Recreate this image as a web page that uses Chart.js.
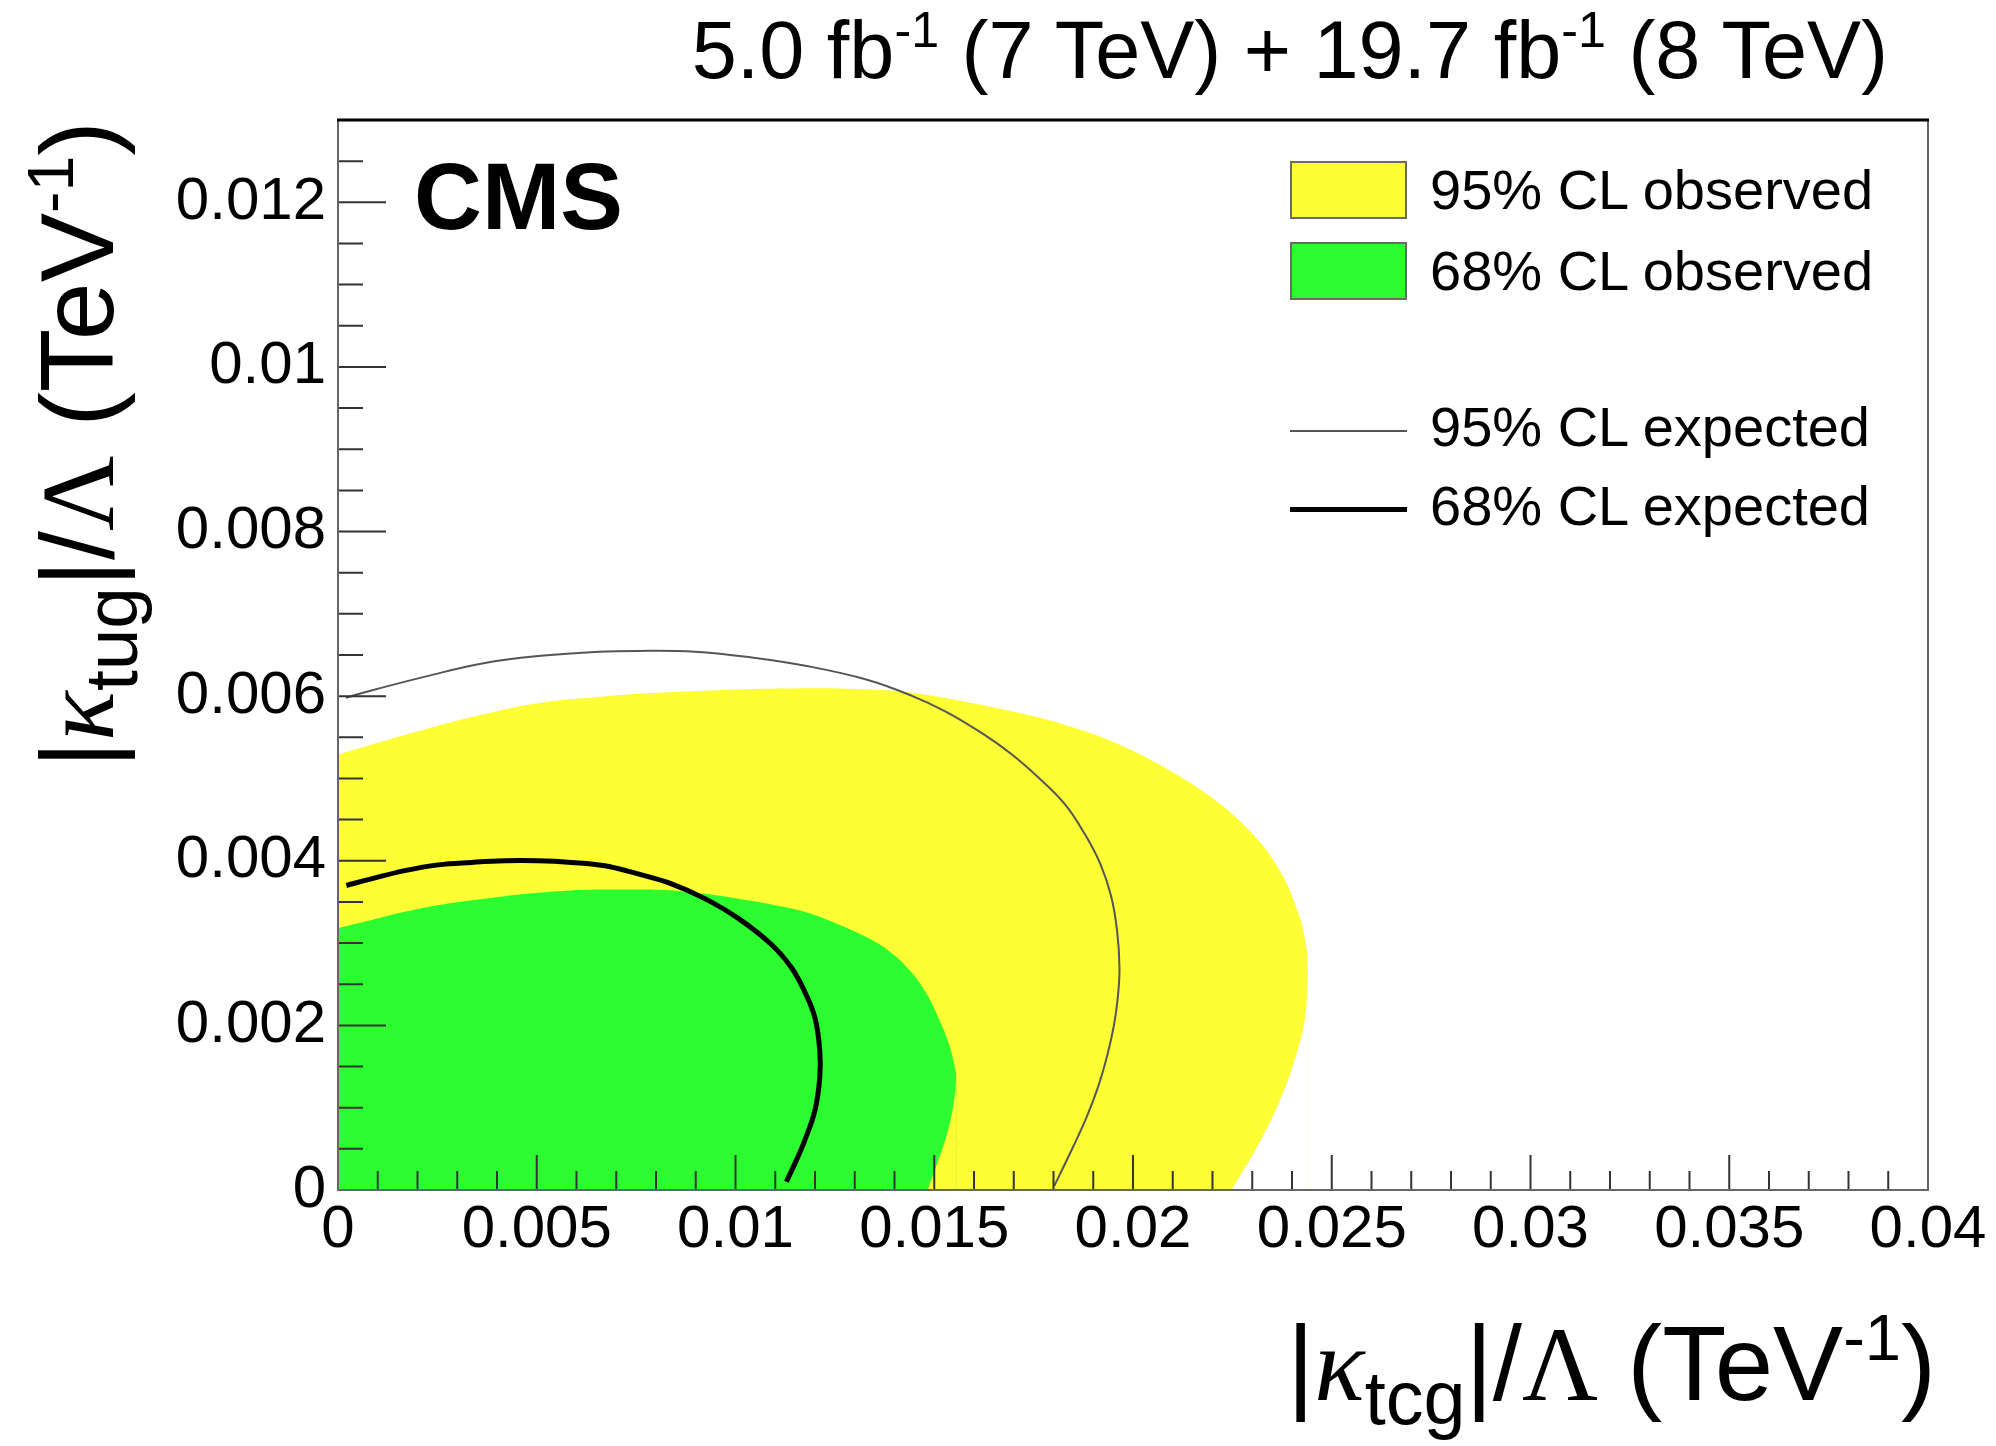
<!DOCTYPE html>
<html lang="en">
<head>
<meta charset="UTF-8">
<title>CMS FCNC tug / tcg limits</title>
<script src="https://cdn.jsdelivr.net/npm/chart.js@4.4.1/dist/chart.umd.min.js"></script>
<style>
  body { margin: 0; background: #fff; }
  #wrap { position: relative; width: 1996px; height: 1446px; font-family: "Liberation Sans", Arial, sans-serif; color: #000; }
  #chartBox { position: absolute; left: 0; top: 0; width: 1996px; height: 1446px; }
  .txt { position: absolute; white-space: nowrap; line-height: 1; }
  .sup { font-size: 62%; position: relative; top: -0.62em; }
  .sub { font-size: 72%; position: relative; top: 0.32em; }
  .serif { font-family: "Liberation Serif", "DejaVu Serif", serif; }
  .title { right: 108px; top: 10px; font-size: 81px; }
  .cms { left: 414px; top: 150px; font-size: 94px; font-weight: bold; }
  .xtitle { right: 60px; top: 1311px; font-size: 105px; }
  .ytitle { left: 0; top: 0; width: 800px; text-align: right; font-size: 104px;
            transform-origin: 0 0; transform: translate(25px, 921px) rotate(-90deg); }
  .leg { left: 1430px; font-size: 56px; }
  .box { position: absolute; left: 1290px; width: 113px; height: 54px; border: 2px solid #6a6a6a; }
  .lline { position: absolute; left: 1290px; width: 117px; }
</style>
</head>
<body>
<div id="wrap">
  <div id="chartBox"><canvas id="chart"></canvas></div>

  <div class="txt title">5.0 fb<span class="sup">-1</span> (7 TeV) + 19.7 fb<span class="sup">-1</span> (8 TeV)</div>
  <div class="txt cms">CMS</div>

  <div class="txt xtitle">|<i class="serif">&kappa;</i><span class="sub">tcg</span>|/<span class="serif">&Lambda;</span> (TeV<span class="sup">-1</span>)</div>
  <div class="txt ytitle">|<i class="serif">&kappa;</i><span class="sub">tug</span>|/<span class="serif">&Lambda;</span> (TeV<span class="sup">-1</span>)</div>

  <!-- legend -->
  <div class="box" id="boxY" style="top:161px"></div>
  <div class="txt leg" style="top:162px">95% CL observed</div>
  <div class="box" id="boxG" style="top:242px"></div>
  <div class="txt leg" style="top:243px">68% CL observed</div>
  <div class="lline" id="lineThin" style="top:430px"></div>
  <div class="txt leg" style="top:399px">95% CL expected</div>
  <div class="lline" id="lineThick" style="top:507px"></div>
  <div class="txt leg" style="top:478px">68% CL expected</div>
</div>

<script>
// contour points, [|k_tcg|/L, |k_tug|/L] in TeV^-1

// 95% CL observed: upper edge from the y axis round to the rightmost point
const obs95Top = [
  [0, 0.00529], [0.00077, 0.00540], [0.00222, 0.00560], [0.00366, 0.00578],
  [0.00511, 0.00592], [0.00656, 0.00599], [0.0080, 0.00604], [0.00945, 0.00607],
  [0.0109, 0.00609], [0.0128, 0.00609], [0.01427, 0.00605], [0.0158, 0.00593],
  [0.0171, 0.0058], [0.01836, 0.00564], [0.01962, 0.00542], [0.02088, 0.00511],
  [0.02200, 0.00476], [0.02290, 0.00438], [0.02362, 0.00394], [0.02412, 0.00342],
  [0.02436, 0.00296], [0.0244, 0.00265]
];
// 95% CL observed: lower right edge, from the x axis up to the rightmost point
const obs95Low = [
  [0.02248, 0], [0.02315, 0.00055], [0.02366, 0.00105], [0.02408, 0.0016],
  [0.02433, 0.0021], [0.0244, 0.00265]
];

// 68% CL observed
const obs68Top = [
  [0, 0.00318], [0.00084, 0.00328], [0.00168, 0.00338], [0.00252, 0.00346],
  [0.00336, 0.00352], [0.0042, 0.00357], [0.00503, 0.00361], [0.00587, 0.00364],
  [0.00671, 0.00365], [0.00755, 0.00365], [0.00839, 0.00364], [0.00923, 0.0036],
  [0.01007, 0.00354], [0.01091, 0.00347], [0.01174, 0.00338], [0.01258, 0.00323],
  [0.0133, 0.00307], [0.0139, 0.00289], [0.0144, 0.00266], [0.0148, 0.00239],
  [0.0151, 0.0021], [0.01538, 0.00176], [0.01556, 0.0014]
];
const obs68Low = [
  [0.01483, 0], [0.01508, 0.00033], [0.01532, 0.00068], [0.01549, 0.00105],
  [0.01556, 0.0014]
];

// expected contours
const exp95 = [
  [0.0002, 0.00598], [0.00077, 0.00606], [0.00222, 0.00624], [0.00366, 0.0064],
  [0.00511, 0.00649], [0.00656, 0.00654], [0.00752, 0.00655], [0.00897, 0.00654],
  [0.01041, 0.00647], [0.01186, 0.00636], [0.01331, 0.0062], [0.01441, 0.00601],
  [0.01530, 0.00581], [0.01620, 0.00555], [0.01693, 0.0053], [0.0176, 0.00502],
  [0.01828, 0.00469], [0.01878, 0.00433], [0.01918, 0.00396], [0.01945, 0.00357],
  [0.0196, 0.00315], [0.01966, 0.0027], [0.01962, 0.00235], [0.01952, 0.002],
  [0.01935, 0.00163], [0.01912, 0.00125], [0.01882, 0.00087], [0.01845, 0.00048],
  [0.01802, 0.00005]
];
const exp68 = [
  [0.00021, 0.0037], [0.00084, 0.00378], [0.00168, 0.00388], [0.00252, 0.00395],
  [0.00336, 0.00398], [0.0042, 0.004], [0.00503, 0.004], [0.00587, 0.00398],
  [0.00671, 0.00394], [0.00755, 0.00384], [0.00839, 0.00372], [0.00923, 0.00354],
  [0.01007, 0.0033], [0.01091, 0.00298], [0.01141, 0.0027], [0.01174, 0.00241],
  [0.012, 0.00209], [0.01212, 0.00169], [0.01212, 0.00137], [0.012, 0.00097],
  [0.01174, 0.0006], [0.01153, 0.00036], [0.01128, 0.0001]
];

// axis ranges and tick steps
const xMax = 0.04, xStep = 0.005, xMinor = 0.001;
const yMax = 0.013, yStep = 0.002, yMinor = 0.0005;

const YELLOW = '#fefe35';
const GREEN = '#2cfd30';

document.getElementById('boxY').style.background = YELLOW;
document.getElementById('boxG').style.background = GREEN;
document.getElementById('lineThin').style.borderTop = '2px solid #555';
document.getElementById('lineThick').style.borderTop = '5px solid #000';

const pts = arr => arr.map(([x, y]) => ({x, y}));
const fmt = v => v === 0 ? '0' : String(+v.toFixed(4));
const tickFont = { family: 'Liberation Sans', size: 60 };

// ROOT style frame with inward ticks, drawn over the filled areas
const frameTicks = {
  id: 'frameTicks',
  afterDatasetsDraw(chart) {
    const { ctx, chartArea: a, scales: { x, y } } = chart;
    ctx.save();
    ctx.strokeStyle = '#333';
    ctx.lineWidth = 2;
    ctx.beginPath();
    const nx = Math.round(xMax / xMinor);
    for (let i = 0; i <= nx; i++) {
      const px = x.getPixelForValue(i * xMinor);
      const len = i % Math.round(xStep / xMinor) === 0 ? 35 : 19;
      ctx.moveTo(px, a.bottom);
      ctx.lineTo(px, a.bottom - len);
    }
    const ny = Math.round(yMax / yMinor);
    for (let i = 0; i <= ny; i++) {
      const py = y.getPixelForValue(i * yMinor);
      const len = i % Math.round(yStep / yMinor) === 0 ? 48 : 25;
      ctx.moveTo(a.left, py);
      ctx.lineTo(a.left + len, py);
    }
    ctx.stroke();

    ctx.strokeStyle = '#666';
    ctx.beginPath();
    ctx.moveTo(a.left, a.top);
    ctx.lineTo(a.left, a.bottom);
    ctx.lineTo(a.right, a.bottom);
    ctx.lineTo(a.right, a.top);
    ctx.stroke();
    ctx.strokeStyle = '#000';
    ctx.lineWidth = 3;
    ctx.beginPath();
    ctx.moveTo(a.left - 1, a.top);
    ctx.lineTo(a.right + 1, a.top);
    ctx.stroke();
    ctx.restore();
  }
};

const noLine = 'rgba(0,0,0,0)';

new Chart(document.getElementById('chart'), {
  type: 'line',
  data: {
    datasets: [
      { label: '68% CL expected', data: pts(exp68), borderColor: '#000', borderWidth: 5, fill: false, order: 0 },
      { label: '95% CL expected', data: pts(exp95), borderColor: '#555', borderWidth: 2, fill: false, order: 1 },
      // area right of the green lower edge is still inside the yellow band
      { label: 'obs68 edge', data: pts(obs68Low), borderColor: noLine, borderWidth: 0, backgroundColor: YELLOW, fill: 'origin', order: 2 },
      { label: '68% CL observed', data: pts(obs68Top), borderColor: noLine, borderWidth: 0, backgroundColor: GREEN, fill: 'origin', order: 3 },
      // cut the corner under the yellow lower edge back to white
      { label: 'obs95 edge', data: pts(obs95Low), borderColor: noLine, borderWidth: 0, backgroundColor: '#fff', fill: 'origin', order: 4 },
      { label: '95% CL observed', data: pts(obs95Top), borderColor: noLine, borderWidth: 0, backgroundColor: YELLOW, fill: 'origin', order: 5 }
    ]
  },
  options: {
    animation: false,
    responsive: true,
    maintainAspectRatio: false,
    elements: { point: { radius: 0 }, line: { tension: 0.4 } },
    layout: { padding: { top: 120, right: 68, left: 0, bottom: 0 } },
    plugins: { legend: { display: false }, tooltip: { enabled: false } },
    scales: {
      x: {
        type: 'linear', min: 0, max: xMax,
        grid: { display: false, drawTicks: false },
        border: { display: false },
        ticks: { stepSize: xStep, padding: 4, font: tickFont, color: '#000', maxRotation: 0, autoSkip: false, callback: fmt },
        afterFit: s => { s.height = 256; s.paddingLeft = 0; s.paddingRight = 0; }
      },
      y: {
        type: 'linear', min: 0, max: yMax,
        grid: { display: false, drawTicks: false },
        border: { display: false },
        ticks: { stepSize: yStep, includeBounds: false, padding: 12, font: tickFont, color: '#000', autoSkip: false, callback: fmt },
        afterFit: s => { s.width = 338; s.paddingTop = 0; s.paddingBottom = 0; }
      }
    }
  },
  plugins: [frameTicks]
});
</script>
</body>
</html>
